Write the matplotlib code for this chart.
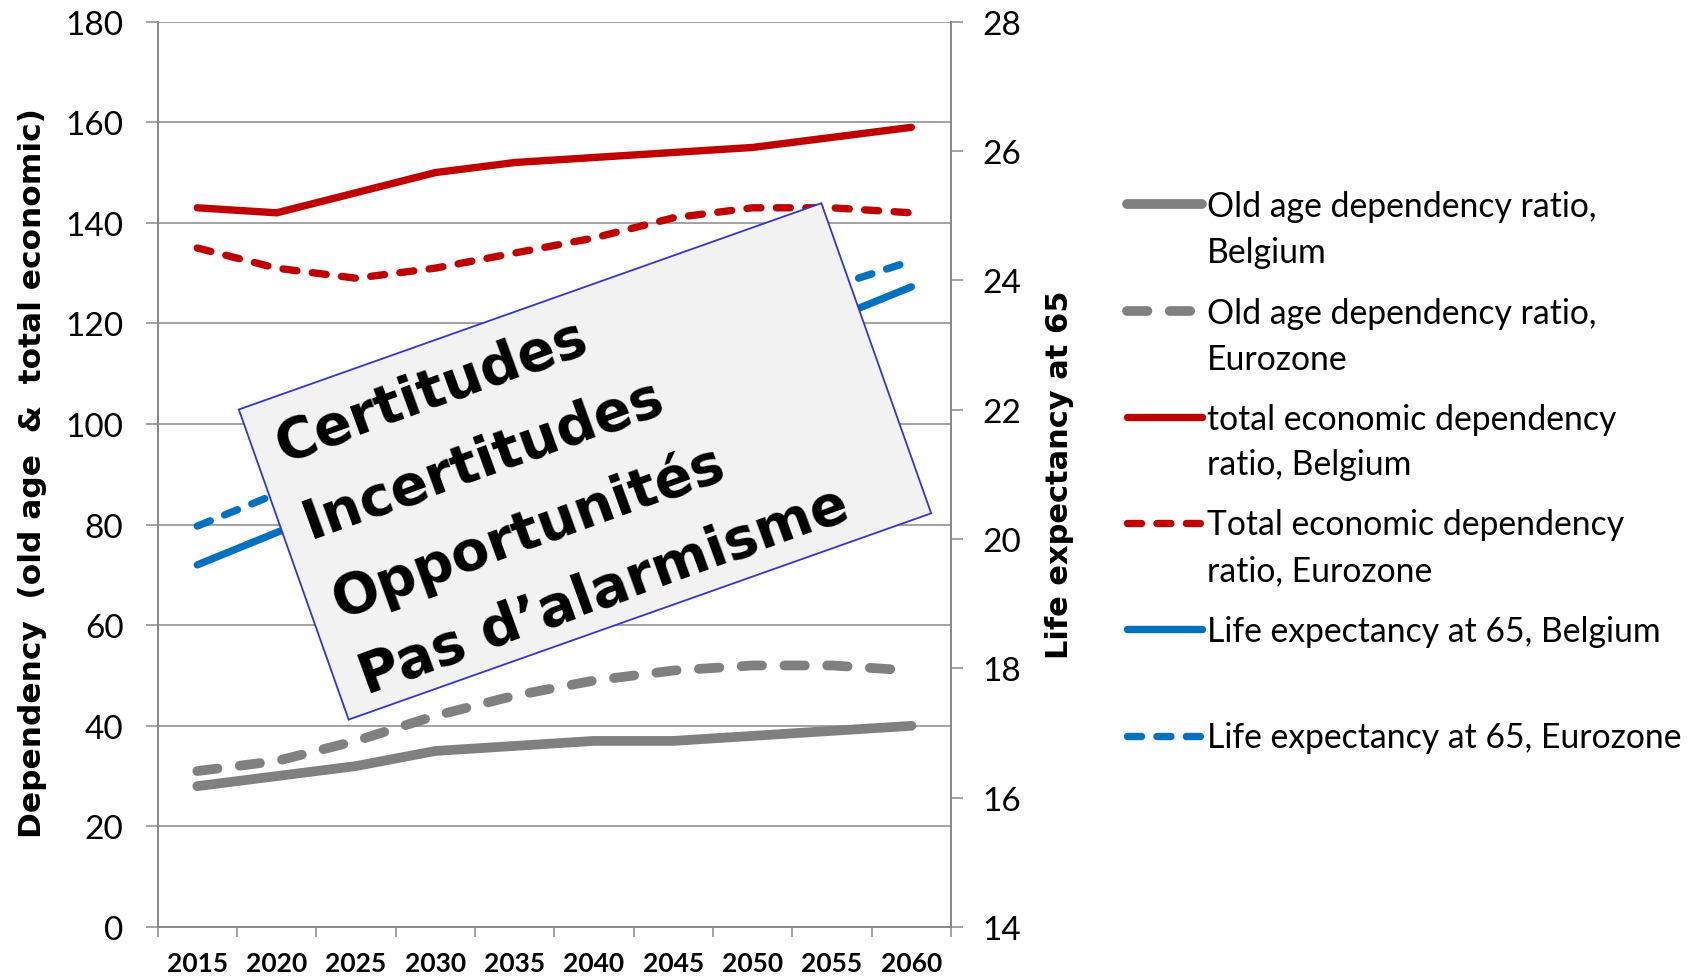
import numpy as np
import matplotlib
matplotlib.use('Agg')
from matplotlib import pyplot as plt
from matplotlib.patches import Rectangle
from matplotlib.lines import Line2D
from matplotlib.ticker import FixedLocator, MultipleLocator, NullFormatter

# -----------------
# Data
# -----------------
years = ['2015', '2020', '2025', '2030', '2035', '2040', '2045', '2050', '2055', '2060']

old_age_be = [28, 30, 32, 35, 36, 37, 37, 38, 39, 40]
old_age_ez = [31, 33, 37, 42, 46, 49, 51, 52, 52, 51]
total_econ_be = [143, 142, 146, 150, 152, 153, 154, 155, 157, 159]
total_econ_ez = [135, 131, 129, 131, 134, 137, 141, 143, 143, 142]
life_exp_be = [19.6, 20.1, 20.6, 21.1, 21.6, 22.0, 22.5, 23.0, 23.4, 23.9]
life_exp_ez = [20.2, 20.7, 21.2, 21.7, 22.1, 22.6, 23.0, 23.4, 23.9, 24.3]

legend_labels = ['Old age dependency ratio,\nBelgium',
                 'Old age dependency ratio,\nEurozone',
                 'total economic dependency\nratio, Belgium',
                 'Total economic dependency\nratio, Eurozone',
                 'Life expectancy at 65, Belgium',
                 'Life expectancy at 65, Eurozone']

box_lines = ['Certitudes', 'Incertitudes', 'Opportunités', 'Pas d\u2019alarmisme']

left_label = 'Dependency  (old age  &  total economic)'
right_label = 'Life expectancy at 65'

# -----------------
# Styles
# -----------------
GREY, RED, BLUE = '#808080', '#c00000', '#0070c0'
AXIS_GREY = '#898989'

plt.rcParams['font.family'] = ['Lato', 'DejaVu Sans']

W, H, DPI = 1704, 979, 100
fig = plt.figure(figsize=(W / DPI, H / DPI), dpi=DPI)


def fpos(x, y):
    """ pixel position (origin top left) -> figure fraction """
    return x / W, 1 - y / H


AX_L, AX_R, AX_T, AX_B = 157.6, 951.0, 22.7, 928.0
ax = fig.add_axes([AX_L / W, 1 - AX_B / H, (AX_R - AX_L) / W, (AX_B - AX_T) / H])
ax2 = ax.twinx()

x = np.arange(len(years))

grey_solid = dict(color=GREY, lw=7.0, solid_capstyle='round', solid_joinstyle='round')
grey_dash = dict(color=GREY, lw=7.0, linestyle=(0, (2.1, 2.3)), dash_capstyle='round', dash_joinstyle='round')
red_solid = dict(color=RED, lw=5.3, solid_capstyle='round', solid_joinstyle='round')
red_dash = dict(color=RED, lw=5.3, linestyle=(0, (1.9, 2.1)), dash_capstyle='round', dash_joinstyle='round')
blue_solid = dict(red_solid, color=BLUE)
blue_dash = dict(red_dash, color=BLUE)
styles = [grey_solid, grey_dash, red_solid, red_dash, blue_solid, blue_dash]

ax.plot(x, old_age_be, **grey_solid)
ax.plot(x, old_age_ez, **grey_dash)
ax.plot(x, total_econ_be, **red_solid)
ax.plot(x, total_econ_ez, **red_dash)
ax2.plot(x, life_exp_be, **blue_solid)
ax2.plot(x, life_exp_ez, **blue_dash)

# left axis
ax.set_xlim(-0.5, len(years) - 0.5)
ax.set_ylim(0, 180)
ax.yaxis.set_major_locator(MultipleLocator(20))
ax.grid(axis='y', color=AXIS_GREY, lw=1.1)
ax.set_axisbelow(True)

# category axis: ticks between categories, labels at centres
ax.xaxis.set_major_locator(FixedLocator(np.arange(-0.5, len(years), 1.0)))
ax.xaxis.set_major_formatter(NullFormatter())
ax.set_xticks(x, years, minor=True)
ax.tick_params(axis='x', which='major', direction='out', length=7, width=1.1, color=AXIS_GREY)
ax.tick_params(axis='x', which='minor', length=0, pad=17, labelsize=19)
for lbl in ax.get_xticklabels(minor=True):
    lbl.set_fontweight('bold')

ax.tick_params(axis='y', direction='out', length=8.6, width=1.1, color=AXIS_GREY, pad=16, labelsize=24)

# right axis
ax2.set_ylim(14, 28)
ax2.yaxis.set_major_locator(MultipleLocator(2))
ax2.tick_params(axis='y', direction='out', length=8.6, width=1.1, color=AXIS_GREY, pad=14, labelsize=24)

for a in (ax, ax2):
    a.spines['top'].set_visible(False)
    for side in ('left', 'right', 'bottom'):
        a.spines[side].set_color(AXIS_GREY)
        a.spines[side].set_linewidth(1.3)

# axis titles
fig.text(*fpos(33, 473), left_label, rotation=90, ha='center', va='center',
         fontsize=22.5, fontweight='bold', family='DejaVu Sans')
fig.text(*fpos(1059, 475), right_label, rotation=90, ha='center', va='center',
         fontsize=22, fontweight='bold', family='DejaVu Sans')

# -----------------
# Legend (drawn by hand, Excel style)
# -----------------
LEG_X0, LEG_X1, LEG_TX = 1127, 1202, 1207
leg_y = [205, 311.5, 417.5, 523.5, 630, 736.5]
for y, label, style in zip(leg_y, legend_labels, styles):
    (hx0, hy), (hx1, _) = fpos(LEG_X0, y), fpos(LEG_X1, y)
    fig.add_artist(Line2D([hx0, hx1], [hy, hy], transform=fig.transFigure, **style))
    for k, line in enumerate(label.split('\n')):
        fig.text(*fpos(LEG_TX, y + 12 + 46 * k), line, ha='left', va='baseline', fontsize=24.3)

# -----------------
# Tilted note box
# -----------------
BOX_CX, BOX_CY, BOX_W, BOX_H, BOX_ANGLE = 585, 462.4, 618, 329, 19.5
box = Rectangle(((BOX_CX - BOX_W / 2) / DPI, (H - BOX_CY - BOX_H / 2) / DPI), BOX_W / DPI, BOX_H / DPI,
                angle=BOX_ANGLE, rotation_point='center', transform=fig.dpi_scale_trans,
                facecolor='#f2f2f2', edgecolor='#3535cc', lw=1.3, zorder=5)
fig.add_artist(box)
fig.text(*fpos(562, 476), '\n'.join(box_lines), rotation=20, ha='center', va='center',
         multialignment='left', linespacing=1.66, fontsize=40, fontweight='bold',
         family='DejaVu Sans', zorder=6)

fig.savefig('out.png', dpi=DPI)
